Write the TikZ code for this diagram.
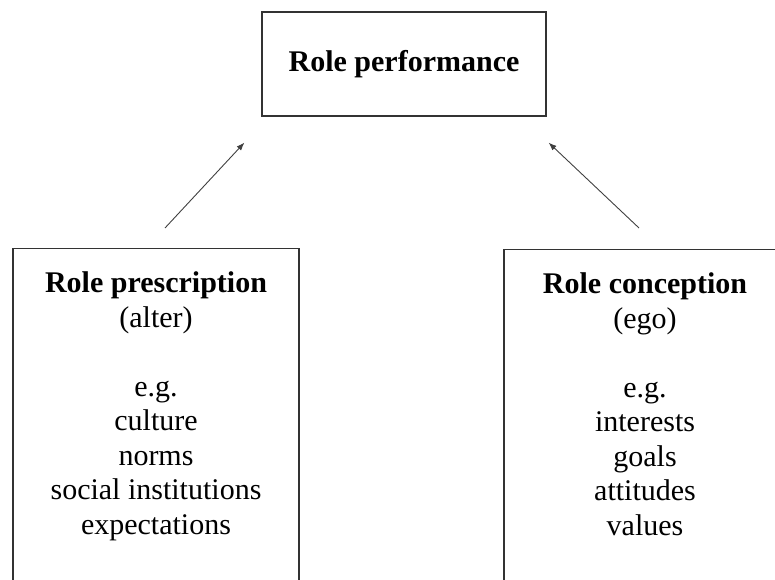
\documentclass[tikz,border=0pt]{standalone}
\usepackage{fontspec}
\setmainfont{Liberation Serif}
\usetikzlibrary{arrows.meta,positioning,calc}

\begin{document}
\begin{tikzpicture}[x=1pt,y=1pt]
	\tikzstyle{every node}=[draw=black!80,rectangle,line width=1.2pt,align=center,
		font=\fontsize{30}{34.5}\selectfont]
	\tikzstyle{rolebox}=[anchor=north,inner ysep=23.5,text depth=120]
	
	\useasboundingbox (0,0) rectangle (775,579);
	\clip (0,0) rectangle (775,579);
	
	\node[minimum width=284,minimum height=104] (perf) at (404,515) {\textbf{Role performance}};
	
	\node[rolebox,minimum width=286] (presc) at (156,331) {\textbf{Role prescription}\\(alter)\\[34.5pt]
		e.g.\\culture\\norms\\social institutions\\expectations};
	\node[rolebox,minimum width=282] (concep) at (645,330) {\textbf{Role conception}\\(ego)\\[34.5pt]
		e.g.\\interests\\goals\\attitudes\\values};
	
	\coordinate (l0) at ($(presc.north)+(9,20)$);
	\coordinate (l1) at ($(perf.south west)+(-17,-26)$);
	\coordinate (r0) at ($(concep.north)+(-6,21)$);
	\coordinate (r1) at ($(perf.south east)+(2,-26)$);
	
	\draw[-{Latex[length=8pt,width=6pt]},line width=0.9pt,black!75] (l0) -- (l1);
	\draw[-{Latex[length=8pt,width=6pt]},line width=0.9pt,black!75] (r0) -- (r1);
	
\end{tikzpicture}
\end{document}
